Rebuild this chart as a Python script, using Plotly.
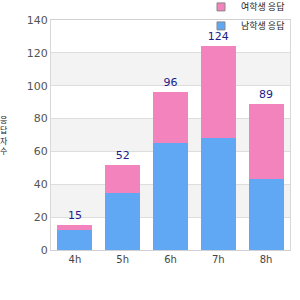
import plotly.graph_objects as go

categories = ["4h", "5h", "6h", "7h", "8h"]
series_a_name = "남학생 응답"   # blue, bottom
series_b_name = "여학생 응답"   # pink, top
series_a = [12, 35, 65, 68, 43]
series_b = [3, 17, 31, 56, 46]
totals = [a + b for a, b in zip(series_a, series_b)]
y_title = "응답자수"
y_ticks = [0, 20, 40, 60, 80, 100, 120, 140]
bands = [(20, 40), (60, 80), (100, 120)]

BLUE = "#60a8f4"
PINK = "#f383bd"
FONT = "Noto Sans CJK KR, DejaVu Sans, sans-serif"

fig = go.Figure()
fig.add_trace(go.Bar(x=categories, y=series_a, marker=dict(color=BLUE, line=dict(width=0)),
                     showlegend=False, hoverinfo="skip"))
fig.add_trace(go.Bar(x=categories, y=series_b, marker=dict(color=PINK, line=dict(width=0)),
                     text=[str(t) for t in totals], textposition="outside",
                     textfont=dict(color="#1c1c8a", size=11, family="DejaVu Sans, sans-serif"),
                     cliponaxis=False, showlegend=False, hoverinfo="skip"))
# legend entries
fig.add_trace(go.Scatter(x=[None], y=[None], mode="markers", name=series_a_name,
                         marker=dict(symbol="square", size=8, color=BLUE, line=dict(color="#888", width=1))))
fig.add_trace(go.Scatter(x=[None], y=[None], mode="markers", name=series_b_name,
                         marker=dict(symbol="square", size=8, color=PINK, line=dict(color="#888", width=1))))

for y0, y1 in bands:
    fig.add_shape(type="rect", xref="paper", yref="y", x0=0, x1=1, y0=y0, y1=y1,
                  fillcolor="#f3f3f3", line=dict(width=0), layer="below")

fig.add_annotation(text="<br>".join(list(y_title)), xref="paper", yref="paper",
                   x=-0.195, y=0.5, xanchor="center", yanchor="middle", showarrow=False,
                   font=dict(size=8, color="#222", family=FONT))

fig.update_layout(
    width=300, height=300,
    margin=dict(l=51, r=10, t=20, b=50, autoexpand=False),
    barmode="stack", bargap=0.27,
    plot_bgcolor="white", paper_bgcolor="white",
    font=dict(family=FONT, size=11, color="#444"),
    legend=dict(x=1.0, xanchor="right", y=1.12, yanchor="top", traceorder="reversed",
                bgcolor="rgba(255,255,255,0)", font=dict(size=9, color="#222"),
                itemwidth=30, tracegroupgap=0),
)
fig.update_xaxes(showline=True, linecolor="#d0d0d0", mirror=True, showgrid=False,
                 tickfont=dict(size=10, color="#444", family="DejaVu Sans, sans-serif"), ticks="")
fig.update_yaxes(range=[0, 140], tickvals=y_ticks, showgrid=True, gridcolor="#dddddd",
                 showline=True, linecolor="#d8d8d8", mirror=True, zeroline=False,
                 tickfont=dict(size=11, color="#555", family="DejaVu Sans, sans-serif"), ticks="")

fig.write_html("out.html")
